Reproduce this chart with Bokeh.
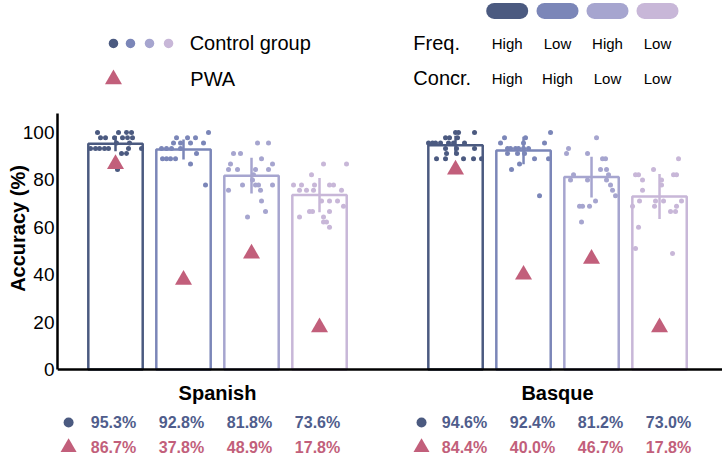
from bokeh.plotting import figure
from bokeh.models import ColumnDataSource, Span, FixedTicker
from bokeh.embed import file_html
from bokeh.resources import INLINE
from bokeh.core.properties import value

FONT = "Liberation Sans"

# ---------------- data ----------------
languages = ["Spanish", "Basque"]
freq_labels = ["High", "Low", "High", "Low"]
concr_labels = ["High", "High", "Low", "Low"]

control_spanish = [95.3, 92.8, 81.8, 73.6]
control_basque = [94.6, 92.4, 81.2, 73.0]
pwa_spanish = [86.7, 37.8, 48.9, 17.8]
pwa_basque = [84.4, 40.0, 46.7, 17.8]
err_spanish = [3.2, 4.2, 7.5, 7.2]
err_basque = [4.0, 5.8, 8.6, 9.5]

y_ticks = [0, 20, 40, 60, 80, 100]

# individual control participants: values and horizontal jitter (px)
s1_vals = [100]*4 + [97.8]*6 + [95.6]*2 + [93.3]*7 + [91.1]*2 + [84.4]
s1_jit = [-18, 3, 11, 16, -15, -10, -1, 7, 12, 17, 1, 14, -25, -20, -16, -11, -7, 13, 26, 6, 11, 2]
s2_vals = [100] + [97.8]*3 + [95.6]*4 + [93.3]*4 + [91.1] + [88.9]*4 + [86.7] + [77.8]
s2_jit = [25, -7, 4, 12, -10, -3, 7, 20, -22, -17, -12, -3, 13, -21, -17, -13, -8, 7, 22]
s3_vals = [95.6]*2 + [91.1]*2 + [88.9] + [86.7]*2 + [84.4]*4 + [82.2] + [80.0] + [77.8]*4 + [75.6]*2 + [71.1] + [66.7] + [64.4]
s3_jit = [6, 17, -18, -11, 10, -21, 21, -23, -14, 4, 17, 2, 1, -9, 4, 7, 21, -23, 9, 10, 14, -4]
s4_vals = [86.7]*2 + [82.2] + [77.8]*5 + [75.6]*4 + [71.1]*3 + [68.9] + [66.7]*3 + [64.4]*2 + [62.2]*2 + [60.0]
s4_jit = [4, 27, -8, -26, -18, -5, 10, 14, -20, -13, -6, 22, 2, 10, 18, 24, -10, -7, 10, -20, 4, 4, 7, 10]
b1_vals = [100]*3 + [97.8]*3 + [95.6]*7 + [93.3]*3 + [91.1]*2 + [88.9]*5
b1_jit = [0, 3, 19, -10, -6, 2, -27, -23, -20, -15, -7, -2, 9, -10, 1, 19, -9, 1, -19, -10, 8, 18, 26]
b2_vals = [100] + [97.8]*2 + [95.6]*3 + [93.3]*6 + [91.1]*3 + [88.9]*2 + [86.7] + [84.4] + [73.3]
b2_jit = [27, -19, 2, -23, 0, 21, -16, -13, -8, -5, 0, 5, -16, -6, 1, 11, 25, -4, -12, 16]
b3_vals = [97.8, 93.3] + [91.1]*2 + [88.9]*2 + [84.4]*2 + [82.2]*2 + [80.0]*3 + [77.8, 75.6, 73.3, 71.1] + [68.9]*3 + [62.2]
b3_jit = [5, -23, -25, -4, 11, 14, 9, 15, -18, 17, -21, -4, 15, 19, 21, 24, 4, -12, -9, -2, -10]
b4_vals = [88.9, 84.4] + [82.2]*4 + [80.0]*2 + [77.8, 75.6] + [71.1]*4 + [68.9]*3 + [66.7]*2 + [60.0, 51.1, 48.9]
b4_jit = [19, -6, -24, -21, 14, 17, -17, 2, 2, -17, -20, -4, 4, 22, -27, -5, 17, 11, 16, -21, -24, 13]

# ---------------- style / layout ----------------
colors = ["#4b5a80", "#7b86b8", "#a6a5cf", "#c8b7d8"]
pink = "#c25f7b"
text_blue = "#4f5d8c"
PX = 68.0  # pixels per x unit

positions = [0, 1, 2, 3, 5, 6, 7, 8]
means = control_spanish + control_basque
errs = err_spanish + err_basque
pwas = pwa_spanish + pwa_basque
bar_colors = colors + colors

p = figure(width=722, height=456, x_range=(-0.853, 8.926), y_range=(-36.71, 155.70),
           output_backend="svg", toolbar_location=None, x_axis_location=None,
           min_border_left=57, min_border_right=0, min_border_top=0, min_border_bottom=0)
p.grid.visible = False
p.outline_line_color = None
p.background_fill_color = "white"

ax = p.yaxis[0]
ax.bounds = (0, 108)
ax.ticker = FixedTicker(ticks=y_ticks)
ax.major_tick_line_color = None
ax.minor_tick_line_color = None
ax.major_tick_out = 0
ax.major_tick_in = 0
ax.minor_tick_out = 0
ax.minor_tick_in = 0
ax.axis_line_width = 2.5
ax.axis_line_color = "black"
ax.major_label_text_font = FONT
ax.major_label_text_font_size = "19px"
ax.major_label_text_color = "black"
ax.major_label_standoff = 3
ax.axis_label = "Accuracy (%)"
ax.axis_label_text_font = FONT
ax.axis_label_text_font_style = "bold"
ax.axis_label_text_font_size = "20px"
ax.axis_label_text_color = "black"
ax.axis_label_text_baseline = "bottom"
ax.axis_label_standoff = -9

p.add_layout(Span(location=0, dimension="width", line_color="black", line_width=2.5))

bars = ColumnDataSource(dict(x=positions, top=means, color=bar_colors,
                             lo=[m - e for m, e in zip(means, errs)],
                             hi=[m + e for m, e in zip(means, errs)]))
p.vbar(x="x", top="top", bottom=0, width=0.8, source=bars, fill_color="white",
       line_color="color", line_width=2.5)
p.segment(x0="x", y0="lo", x1="x", y1="hi", source=bars, line_color="color", line_width=2.5)

all_vals = [s1_vals, s2_vals, s3_vals, s4_vals, b1_vals, b2_vals, b3_vals, b4_vals]
all_jit = [s1_jit, s2_jit, s3_jit, s4_jit, b1_jit, b2_jit, b3_jit, b4_jit]
dx, dy, dc = [], [], []
for pos, vals, jit, c in zip(positions, all_vals, all_jit, bar_colors):
    for v, j in zip(vals, jit):
        dx.append(pos + j / PX)
        dy.append(v)
        dc.append(c)
p.scatter(x=dx, y=dy, size=5, color=dc, line_color=None)

p.scatter(x=positions, y=pwas, marker="triangle", size=17, color=pink, line_color=None)

# ---------------- legend (top left) ----------------
p.scatter(x=[-0.03, 0.22, 0.5, 0.78], y=[137.6]*4, size=9.5, color=colors, line_color=None)
p.scatter(x=[-0.03], y=[122.4], marker="triangle", size=17, color=pink, line_color=None)
p.text(x=[1.09, 1.1], y=[137.6, 122.4], text=["Control group", "PWA"],
       text_font=value(FONT), text_font_size="20px", text_color="black",
       text_baseline="middle", text_align="left")

# ---------------- condition key (top right) ----------------
pill_x = [5.76, 6.5, 7.235, 7.97]
p.segment(x0=[x - 13 / PX for x in pill_x], x1=[x + 13 / PX for x in pill_x],
          y0=[151.3]*4, y1=[151.3]*4, line_color=colors, line_width=16, line_cap="round")
p.text(x=[4.38, 4.38], y=[137.6, 122.8], text=["Freq.", "Concr."],
       text_font=value(FONT), text_font_size="20px", text_color="black",
       text_baseline="middle", text_align="left")
p.text(x=pill_x + pill_x, y=[137.6]*4 + [122.8]*4, text=freq_labels + concr_labels,
       text_font=value(FONT), text_font_size="15px", text_color="black",
       text_baseline="middle", text_align="center")

# ---------------- bottom table ----------------
p.text(x=[1.5, 6.5], y=[-10.1, -10.1], text=languages, text_font=value(FONT),
       text_font_size="20px", text_font_style="bold", text_color="black",
       text_baseline="middle", text_align="center")
tx_s = [x - 2 / PX for x in positions[:4]]
tx_b = [x + 9 / PX for x in positions[4:]]
p.text(x=tx_s + tx_b, y=[-22.4]*8, text=[f"{v:.1f}%" for v in means],
       text_font=value(FONT), text_font_size="16px", text_font_style="bold",
       text_color=text_blue, text_baseline="middle", text_align="center")
p.text(x=tx_s + tx_b, y=[-32.9]*8, text=[f"{v:.1f}%" for v in pwas],
       text_font=value(FONT), text_font_size="16px", text_font_style="bold",
       text_color=pink, text_baseline="middle", text_align="center")
p.scatter(x=[-0.69, 4.5], y=[-22.4, -22.4], size=10, color=colors[0], line_color=None)
p.scatter(x=[-0.69, 4.5], y=[-32.9, -32.9], marker="triangle", size=16, color=pink, line_color=None)

open("out.html", "w").write(file_html(p, INLINE))
